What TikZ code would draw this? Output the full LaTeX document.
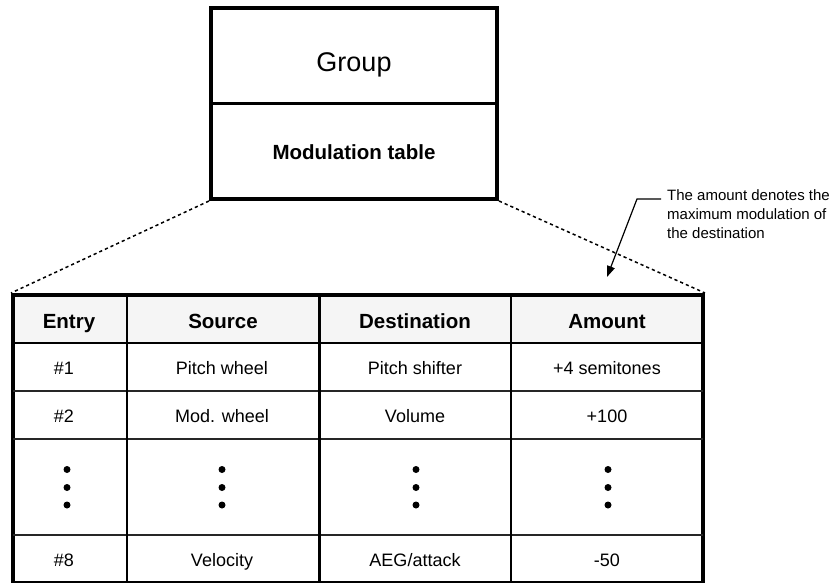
\documentclass[tikz,border=0pt]{standalone}
\usepackage{fontspec}
\setmainfont{Liberation Sans}
\usetikzlibrary{arrows.meta}
\begin{document}
\begin{tikzpicture}[x=1pt,y=-1pt,
  frame/.style={draw=black, line width=4pt},
  groupbox/.style={frame, fill=white, minimum width=286pt, minimum height=191pt, inner sep=0pt},
  grouptitle/.style={inner sep=0pt, text depth=0pt, text height=19.4pt, font=\fontsize{27}{30}\selectfont},
  boldlabel/.style={inner sep=0pt, text depth=0pt, text height=14.8pt, font=\fontsize{20.5}{24}\selectfont\bfseries},
  cell/.style={inner sep=0pt, text depth=0pt, text height=13pt, font=\fontsize{18}{22}\selectfont},
  note/.style={font=\fontsize{15}{19}\selectfont, align=left, inner sep=0pt, anchor=north west},
  zoomline/.style={line width=1.5pt, dash pattern=on 3.2pt off 3pt},
  coldiv/.style={line width=2.4pt},
  rowdiv/.style={line width=1.6pt, draw=black!85},
  dot/.style={circle, fill=black, inner sep=0pt, minimum size=7pt},
  leader/.style={line width=1.2pt, -{Triangle[length=11pt, width=8pt]}}
]
\useasboundingbox (0,0) rectangle (831,582);
\clip (0,0) rectangle (831,582);

% group box with its two compartments
\node[groupbox] (grp) at (354,103.5) {};
\draw[line width=2.4pt] (grp.west) -- (grp.east);
\node[grouptitle] (grptitle) at (354,61.5) {Group};
\node[boldlabel] (modtable) at (354,152.5) {Modulation table};

% modulation table frame
\fill[black!4] (13,295) rectangle (703,343);
\node[frame, minimum width=690pt, minimum height=288pt, inner sep=0pt] (tbl) at (358,439) {};

% zoom lines from the group box to the table
\draw[zoomline] (grp.south west) -- (tbl.north west);
\draw[zoomline] (grp.south east) -- (tbl.north east);

% grid lines
\draw[coldiv] (13,343) -- (703,343);
\draw[rowdiv] (13,391) -- (703,391);
\draw[rowdiv] (13,439) -- (703,439);
\draw[rowdiv] (13,535) -- (703,535);
\draw[coldiv] (127,295) -- (127,583);
\draw[coldiv] (319.5,295) -- (319.5,583);
\draw[coldiv] (511,295) -- (511,583);

% header row
\node[boldlabel] (hentry) at (69,321) {Entry};
\node[boldlabel] (hsource) at (223,321) {Source};
\node[boldlabel] (hdest) at (415,321) {Destination};
\node[boldlabel] (hamount) at (607,321) {Amount};

% entry #1
\node[cell] (e1) at (64,368) {\#1};
\node[cell] (s1) at (222,368) {Pitch wheel};
\node[cell] (d1) at (415,368) {Pitch shifter};
\node[cell] (a1) at (607,368) {+4 semitones};

% entry #2
\node[cell] (e2) at (64,416) {\#2};
\node[cell] (s2) at (222,416) {Mod. wheel};
\node[cell] (d2) at (415,416) {Volume};
\node[cell] (a2) at (607,416) {+100};

% elided entries
\foreach \cx/\nm in {67/c1, 222/c2, 416/c3, 608/c4}{
  \node[dot] (\nm a) at (\cx,469.5) {};
  \node[dot] (\nm b) at (\cx,487.5) {};
  \node[dot] (\nm c) at (\cx,505) {};
}

% entry #8
\node[cell] (e8) at (64,560) {\#8};
\node[cell] (s8) at (222,560) {Velocity};
\node[cell] (d8) at (415,560) {AEG/attack};
\node[cell] (a8) at (607,560) {-50};

% annotation on the amount column
\node[note] (amtnote) at (667,189) {The amount denotes the\\maximum modulation of\\the destination};
\coordinate (notestart) at (661,199);
\coordinate (notebend) at (637,199);
\coordinate (notetip) at (607,277);
\draw[leader] (notestart) -- (notebend) -- (notetip);
\end{tikzpicture}
\end{document}
